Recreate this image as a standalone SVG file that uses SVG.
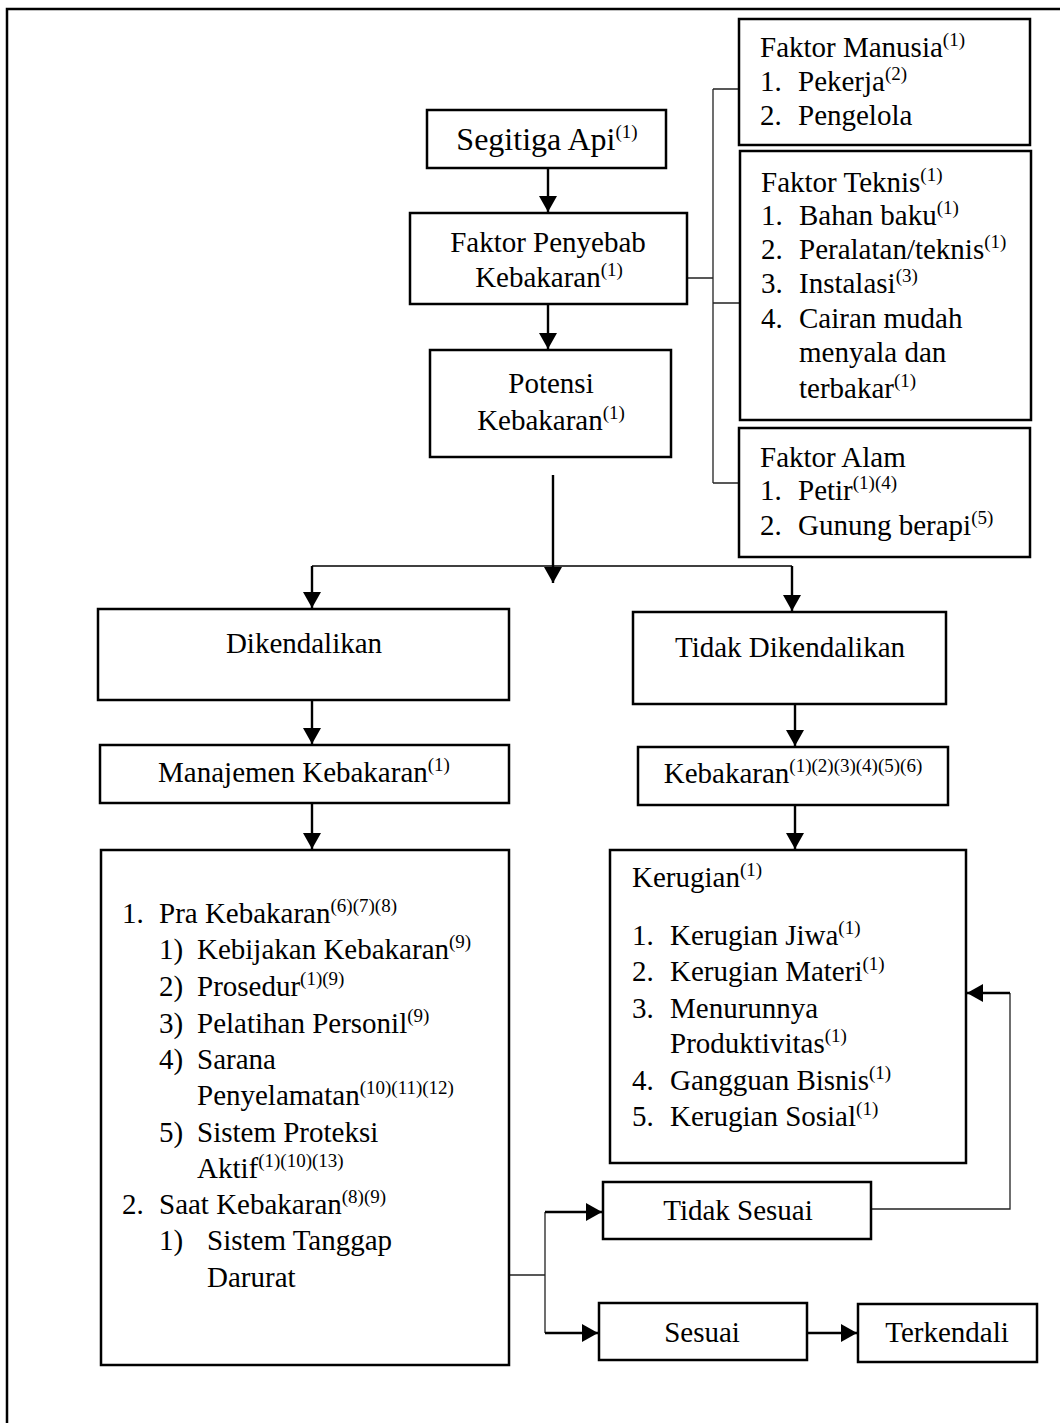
<svg xmlns="http://www.w3.org/2000/svg" width="1060" height="1423" viewBox="0 0 1060 1423">
<style>
text{font-family:"Liberation Serif","Times New Roman",serif;font-size:29px;fill:#000}
.c{text-anchor:middle}
.s{font-size:19px}
.box{fill:#fff;stroke:#000;stroke-width:2.5}
.arr{fill:none;stroke:#000;stroke-width:2.4;marker-end:url(#ah)}
.thin{fill:none;stroke:#222;stroke-width:1.3}
</style>
<defs>
<marker id="ah" markerUnits="userSpaceOnUse" markerWidth="17" markerHeight="18" refX="16" refY="9" orient="auto"><path d="M0,0 L16,9 L0,18 z" fill="#000"/></marker>
</defs>
<rect width="1060" height="1423" fill="#fff"/>
<path d="M7,1423 V9 H1060" fill="none" stroke="#000" stroke-width="2.5"/>

<g id="connectors">
<path class="arr" d="M548,168 V212"/>
<path class="arr" d="M548,304 V349"/>
<path class="thin" d="M687,278 H713 M713,89 V483 M713,89 H739 M713,303 H740 M713,483 H739"/>
<path class="arr" d="M553,475 V583"/>
<path fill="none" stroke="#000" stroke-width="1.5" d="M312,566 H792"/>
<path class="arr" d="M312,566 V608"/>
<path class="arr" d="M792,566 V611"/>
<path class="arr" d="M312,700 V744"/>
<path class="arr" d="M312,803 V849"/>
<path class="arr" d="M795,704 V746"/>
<path class="arr" d="M795,805 V849"/>
<path class="thin" d="M509,1275 H545 M545,1212 V1333"/>
<path class="arr" d="M545,1212 H602"/>
<path class="arr" d="M545,1333 H598"/>
<path class="arr" d="M807,1333 H857"/>
<path class="thin" d="M871,1209 H1010 V993"/>
<path class="arr" d="M1010,993 H967"/>
</g>

<g id="segitiga">
<rect class="box" x="427" y="110" width="239" height="58"/>
<text class="c" x="547" y="150" style="font-size:32px">Segitiga Api<tspan class="s" dy="-12">(1)</tspan></text>
</g>

<g id="faktor-penyebab">
<rect class="box" x="410" y="213" width="277" height="91"/>
<text class="c" x="548" y="252">Faktor Penyebab</text>
<text class="c" x="549" y="287">Kebakaran<tspan class="s" dy="-11">(1)</tspan></text>
</g>

<g id="potensi">
<rect class="box" x="430" y="350" width="241" height="107"/>
<text class="c" x="551" y="393">Potensi</text>
<text class="c" x="551" y="430">Kebakaran<tspan class="s" dy="-11">(1)</tspan></text>
</g>

<g id="faktor-manusia">
<rect class="box" x="739" y="19" width="291" height="126"/>
<text x="760" y="57">Faktor Manusia<tspan class="s" dy="-11">(1)</tspan></text>
<text x="760" y="91">1.</text><text x="798" y="91">Pekerja<tspan class="s" dy="-11">(2)</tspan></text>
<text x="760" y="125">2.</text><text x="798" y="125">Pengelola</text>
</g>

<g id="faktor-teknis">
<rect class="box" x="740" y="151" width="291" height="269"/>
<text x="761" y="192">Faktor Teknis<tspan class="s" dy="-11">(1)</tspan></text>
<text x="761" y="225">1.</text><text x="799" y="225">Bahan baku<tspan class="s" dy="-11">(1)</tspan></text>
<text x="761" y="259">2.</text><text x="799" y="259">Peralatan/teknis<tspan class="s" dy="-11">(1)</tspan></text>
<text x="761" y="293">3.</text><text x="799" y="293">Instalasi<tspan class="s" dy="-11">(3)</tspan></text>
<text x="761" y="328">4.</text><text x="799" y="328">Cairan mudah</text>
<text x="799" y="362">menyala dan</text>
<text x="799" y="398">terbakar<tspan class="s" dy="-11">(1)</tspan></text>
</g>

<g id="faktor-alam">
<rect class="box" x="739" y="428" width="291" height="129"/>
<text x="760" y="467">Faktor Alam</text>
<text x="760" y="500">1.</text><text x="798" y="500">Petir<tspan class="s" dy="-11">(1)(4)</tspan></text>
<text x="760" y="535">2.</text><text x="798" y="535">Gunung berapi<tspan class="s" dy="-11">(5)</tspan></text>
</g>

<g id="dikendalikan">
<rect class="box" x="98" y="609" width="411" height="91"/>
<text class="c" x="304" y="653">Dikendalikan</text>
</g>

<g id="tidak-dikendalikan">
<rect class="box" x="633" y="612" width="313" height="92"/>
<text class="c" x="790" y="657">Tidak Dikendalikan</text>
</g>

<g id="manajemen">
<rect class="box" x="100" y="745" width="409" height="58"/>
<text class="c" x="304" y="782">Manajemen Kebakaran<tspan class="s" dy="-11">(1)</tspan></text>
</g>

<g id="kebakaran">
<rect class="box" x="638" y="747" width="310" height="58"/>
<text class="c" x="793" y="783">Kebakaran<tspan class="s" dy="-11">(1)(2)(3)(4)(5)(6)</tspan></text>
</g>

<g id="manajemen-detail">
<rect class="box" x="101" y="850" width="408" height="515"/>
<text x="122" y="923">1.</text><text x="159" y="923">Pra Kebakaran<tspan class="s" dy="-11">(6)(7)(8)</tspan></text>
<text x="159" y="959">1)</text><text x="197" y="959">Kebijakan Kebakaran<tspan class="s" dy="-11">(9)</tspan></text>
<text x="159" y="996">2)</text><text x="197" y="996">Prosedur<tspan class="s" dy="-11">(1)(9)</tspan></text>
<text x="159" y="1033">3)</text><text x="197" y="1033">Pelatihan Personil<tspan class="s" dy="-11">(9)</tspan></text>
<text x="159" y="1069">4)</text><text x="197" y="1069">Sarana</text>
<text x="197" y="1105">Penyelamatan<tspan class="s" dy="-11">(10)(11)(12)</tspan></text>
<text x="159" y="1142">5)</text><text x="197" y="1142">Sistem Proteksi</text>
<text x="197" y="1178">Aktif<tspan class="s" dy="-11">(1)(10)(13)</tspan></text>
<text x="122" y="1214">2.</text><text x="159" y="1214">Saat Kebakaran<tspan class="s" dy="-11">(8)(9)</tspan></text>
<text x="159" y="1250">1)</text><text x="207" y="1250">Sistem Tanggap</text>
<text x="207" y="1287">Darurat</text>
</g>

<g id="kerugian">
<rect class="box" x="610" y="850" width="356" height="313"/>
<text x="632" y="887">Kerugian<tspan class="s" dy="-11">(1)</tspan></text>
<text x="632" y="945">1.</text><text x="670" y="945">Kerugian Jiwa<tspan class="s" dy="-11">(1)</tspan></text>
<text x="632" y="981">2.</text><text x="670" y="981">Kerugian Materi<tspan class="s" dy="-11">(1)</tspan></text>
<text x="632" y="1018">3.</text><text x="670" y="1018">Menurunnya</text>
<text x="670" y="1053">Produktivitas<tspan class="s" dy="-11">(1)</tspan></text>
<text x="632" y="1090">4.</text><text x="670" y="1090">Gangguan Bisnis<tspan class="s" dy="-11">(1)</tspan></text>
<text x="632" y="1126">5.</text><text x="670" y="1126">Kerugian Sosial<tspan class="s" dy="-11">(1)</tspan></text>
</g>

<g id="tidak-sesuai">
<rect class="box" x="603" y="1182" width="268" height="57"/>
<text class="c" x="738" y="1220">Tidak Sesuai</text>
</g>

<g id="sesuai">
<rect class="box" x="599" y="1303" width="208" height="57"/>
<text class="c" x="702" y="1342">Sesuai</text>
</g>

<g id="terkendali">
<rect class="box" x="858" y="1304" width="179" height="58"/>
<text class="c" x="947" y="1342">Terkendali</text>
</g>
</svg>
